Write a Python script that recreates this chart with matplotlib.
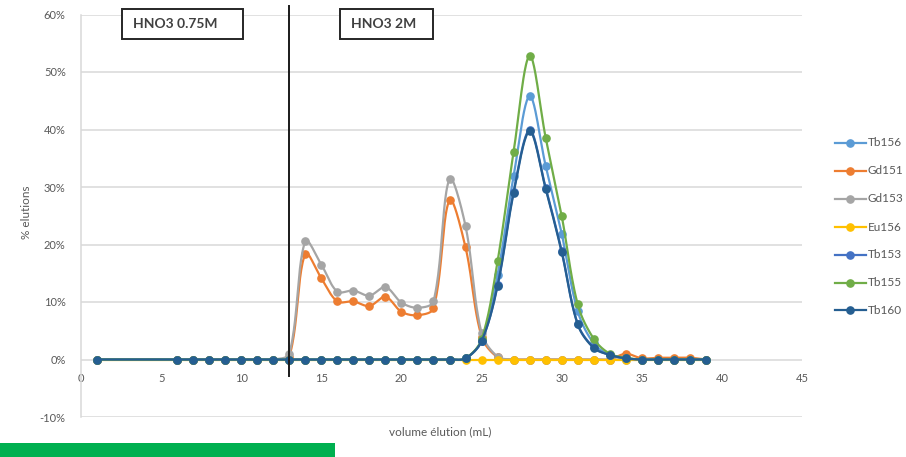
import numpy as np
import matplotlib
matplotlib.use("Agg")
import matplotlib.pyplot as plt
from matplotlib.patches import Rectangle
from matplotlib.lines import Line2D
from matplotlib.ticker import FuncFormatter

plt.rcParams['font.family'] = ['Lato', 'DejaVu Sans']

# Elution volumes (mL)
volumes = [1, 6, 7, 8, 9, 10, 11, 12, 13, 14, 15, 16, 17, 18, 19, 20, 21, 22, 23,
           24, 25, 26, 27, 28, 29, 30, 31, 32, 33, 34, 35, 36, 37, 38, 39]

# Fraction eluted (%) per isotope
tb156 = [0, 0, 0, 0, 0, 0, 0, 0, 0, 0, 0, 0, 0, 0, 0, 0, 0, 0, 0,
         0.2, 3.2, 14.7, 31.9, 45.8, 33.7, 21.9, 8.4, 2.8, 0.8, 0.2, 0, 0, 0, 0, 0]
gd151 = [0, 0, 0, 0, 0, 0, 0, 0, 0.5, 18.4, 14.1, 10.1, 10.1, 9.3, 10.9, 8.3, 7.7, 8.9, 27.7,
         19.5, 4.0, 0.4, 0, 0, 0, 0, 0, 0, 0, 1.0, 0.2, 0.3, 0.3, 0.3, 0]
gd153 = [0, 0, 0, 0, 0, 0, 0, 0, 1.0, 20.6, 16.5, 11.8, 12.0, 11.1, 12.6, 9.9, 9.0, 10.1, 31.4,
         23.2, 4.6, 0.5, 0, 0, 0, 0, 0, 0, 0, 0, 0, 0, 0, 0, 0]
eu156 = [0] * 35
tb153 = [0, 0, 0, 0, 0, 0, 0, 0, 0, 0, 0, 0, 0, 0, 0, 0, 0, 0, 0,
         0.2, 3.2, 13.0, 29.2, 39.9, 29.9, 18.9, 6.2, 2.1, 0.8, 0.2, 0, 0, 0, 0, 0]
tb155 = [0, 0, 0, 0, 0, 0, 0, 0, 0, 0, 0, 0, 0, 0, 0, 0, 0, 0, 0,
         0.2, 3.5, 17.1, 36.1, 52.8, 38.6, 25.0, 9.6, 3.6, 1.0, 0.3, 0, 0, 0, 0, 0]
tb160 = [0, 0, 0, 0, 0, 0, 0, 0, 0, 0, 0, 0, 0, 0, 0, 0, 0, 0, 0,
         0.2, 3.2, 12.8, 28.9, 39.7, 29.7, 18.7, 6.1, 2.0, 0.8, 0.2, 0, 0, 0, 0, 0]

series_names = ["Tb156", "Gd151", "Gd153", "Eu156", "Tb153", "Tb155", "Tb160"]
series_values = [tb156, gd151, gd153, eu156, tb153, tb155, tb160]
series_colors = ["#5B9BD5", "#ED7D31", "#A5A5A5", "#FFC000", "#4472C4", "#70AD47", "#255E91"]

x_ticks = [0, 5, 10, 15, 20, 25, 30, 35, 40, 45]
y_ticks = [-10, 0, 10, 20, 30, 40, 50, 60]
phase_change = 13
phase_labels = ["HNO3 0.75M", "HNO3 2M"]


def smooth(x, y, sx=16.0, sy=5.75, n=24):
    """Chord-weighted Bezier curve through the points (smoothed-line style).

    sx, sy convert data units to screen-like units so that segment lengths
    are compared the way they appear on the chart.
    """
    p = np.column_stack([np.asarray(x, float) * sx, np.asarray(y, float) * sy])
    ext = np.vstack([p[0], p, p[-1]])
    t = np.linspace(0, 1, n, endpoint=False)[:, None]
    out = []
    for i in range(1, len(ext) - 2):
        p0, p1, p2, p3 = ext[i - 1], ext[i], ext[i + 1], ext[i + 2]
        d01 = np.hypot(*(p1 - p0))
        d12 = np.hypot(*(p2 - p1))
        d23 = np.hypot(*(p3 - p2))
        f1 = d12 / (d01 + d12) if d01 + d12 > 0 else 0
        f2 = d12 / (d12 + d23) if d12 + d23 > 0 else 0
        c1 = p1 + (p2 - p0) * f1 / 3.0
        c2 = p2 - (p3 - p1) * f2 / 3.0
        seg = ((1 - t) ** 3) * p1 + 3 * ((1 - t) ** 2) * t * c1 \
            + 3 * (1 - t) * t ** 2 * c2 + t ** 3 * p2
        out.append(seg)
    out.append(p[-1][None, :])
    out = np.vstack(out)
    return out[:, 0] / sx, out[:, 1] / sy


W, H = 906, 457
fig = plt.figure(figsize=(W / 100, H / 100), dpi=100)


def fx(px):
    return px / W


def fy(py):
    return 1 - py / H


ax = fig.add_axes([fx(81), fy(417), fx(802) - fx(81), fy(14.5) - fy(417)])
ax.set_xlim(0, 45)
ax.set_ylim(-10, 60)

grid_c = "#D9D9D9"
for yv in y_ticks:
    ax.axhline(yv, color=grid_c, lw=1.1, zorder=0)
for s in ["top", "right"]:
    ax.spines[s].set_visible(False)
ax.spines["left"].set_color(grid_c)
ax.spines["left"].set_linewidth(1.1)
ax.spines["bottom"].set_position(("data", 0))
ax.spines["bottom"].set_visible(False)

ax.set_xticks(x_ticks)
ax.set_yticks(y_ticks)
ax.yaxis.set_major_formatter(FuncFormatter(lambda v, _: f"{v:.0f}%"))
ax.tick_params(axis="both", length=0, labelsize=8, labelcolor="#595959")
ax.tick_params(axis="y", pad=11)
ax.tick_params(axis="x", pad=10)

for i, (name, vals, col) in enumerate(zip(series_names, series_values, series_colors)):
    cx, cy = smooth(volumes, vals)
    ax.plot(cx, cy, color=col, lw=1.6, zorder=2 + i, solid_capstyle="round")
    ax.plot(volumes, vals, linestyle="none", marker="o", markersize=5.2,
            color=col, zorder=2 + i)

# Boundary between the two eluent phases
ax.plot([phase_change, phase_change], [-2.95, 61.4], color="#1a1a1a", lw=1.4,
        zorder=20, clip_on=False)

fig.text(fx(440), fy(432), "volume élution (mL)", ha="center", va="center",
         fontsize=8.5, color="#595959")
fig.text(fx(26), fy(212), "% elutions", ha="center", va="center", rotation=90,
         fontsize=8.5, color="#595959")

# Phase label boxes
for (x0, x1), label in zip([(122, 243), (340, 433)], phase_labels):
    fig.patches.append(Rectangle((fx(x0), fy(39)), fx(x1) - fx(x0), fy(9) - fy(39),
                                 transform=fig.transFigure, facecolor="white",
                                 edgecolor="#262626", lw=1.4, zorder=30))
    fig.text(fx(x0 + 11), fy(24.5), label, ha="left", va="center", fontsize=10,
             fontweight="bold", color="#404040", zorder=31)

# Legend
leg_y = [143, 171, 199, 227, 255, 283, 310]
for name, col, yy in zip(series_names, series_colors, leg_y):
    fig.add_artist(Line2D([fx(835), fx(866)], [fy(yy), fy(yy)], color=col, lw=1.6,
                          transform=fig.transFigure))
    fig.add_artist(Line2D([fx(850)], [fy(yy)], color=col, marker="o", markersize=5.2,
                          linestyle="none", transform=fig.transFigure))
    fig.text(fx(868), fy(yy), name, ha="left", va="center", fontsize=8.5, color="#595959")

# Green strip along the bottom edge
fig.patches.append(Rectangle((0, 0), fx(335), fy(443), transform=fig.transFigure,
                             facecolor="#00B050", edgecolor="none", zorder=40))

fig.savefig("out.png", dpi=100)
